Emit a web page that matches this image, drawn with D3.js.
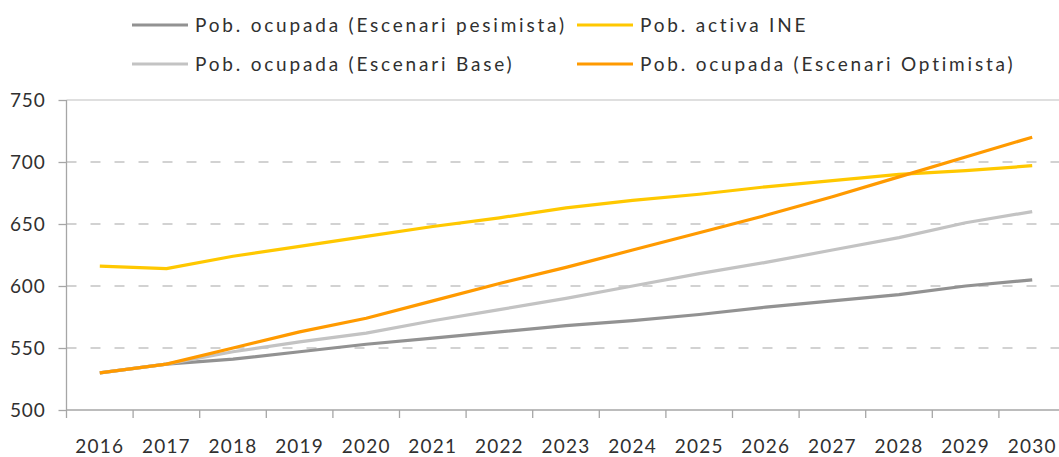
<html lang="en">
<head>
<meta charset="utf-8">
<title>Pob. ocupada</title>
<style>
  body { margin: 0; background: white; }
  svg { background: white; display: block; }
  text { font-family: "Lato", "Open Sans", sans-serif; fill: #303030; }
</style>
</head>
<body>
<div id="chart"></div>
<script src="https://cdn.jsdelivr.net/npm/d3@7"></script>
<script>
var years = ["2016","2017","2018","2019","2020","2021","2022","2023","2024","2025","2026","2027","2028","2029","2030"];
var pesimista = [530, 537, 541, 547, 553, 558, 563, 568, 572, 577, 583, 588, 593, 600, 605];
var base      = [530, 537, 547, 555, 562, 572, 581, 590, 600, 610, 619, 629, 639, 651, 660];
var ine       = [616, 614, 624, 632, 640, 648, 655, 663, 669, 674, 680, 685, 690, 693, 697];
var optimista = [530, 537, 550, 563, 574, 588, 602, 615, 629, 643, 657, 672, 688, 704, 720];
var yTicks = [500, 550, 600, 650, 700, 750];

var seriesNames = ["Pob. ocupada (Escenari pesimista)", "Pob. activa INE",
                   "Pob. ocupada (Escenari Base)", "Pob. ocupada (Escenari Optimista)"];
var seriesColors = ["#929292", "#ffc800", "#c3c3c3", "#ff9a00"];
var seriesData = [pesimista, ine, base, optimista];

var width = 1059, height = 457;
var svg = d3.select("#chart").append("svg")
    .attr("width", width)
    .attr("height", height);

var x = d3.scaleBand()
    .domain(years)
    .range([66.5, 66.5 + 15 * 66.6]);

var y = d3.scaleLinear()
    .domain([500, 750])
    .range([410, 100]);

// grid lines
svg.append("g").selectAll("line")
    .data(yTicks.filter(function(d) { return d > 500; }))
    .enter().append("line")
    .attr("x1", x.range()[0])
    .attr("x2", x.range()[1])
    .attr("y1", function(d) { return y(d); })
    .attr("y2", function(d) { return y(d); })
    .style("stroke", function(d) { return d == 750 ? "#d4d4d4" : "#c4c4c4"; })
    .style("stroke-width", 1.3)
    .style("stroke-dasharray", function(d) { return d == 750 ? null : "10,14"; });

// y axis
var yAxis = d3.axisLeft(y)
    .tickValues(yTicks)
    .tickSize(8)
    .tickPadding(13);
var gy = svg.append("g")
    .attr("transform", "translate(" + x.range()[0] + ",0)")
    .call(yAxis);
gy.selectAll("path, line").style("stroke", "#a6a6a6").style("stroke-width", 1.3);
gy.select(".domain").attr("d", "M0," + y(750) + "V" + y(500));
gy.selectAll("text")
    .style("font-family", "Lato, sans-serif")
    .style("font-size", "19px")
    .style("letter-spacing", "0.8px")
    .style("fill", "#303030");

// x axis: ticks on band edges
var gx = svg.append("g")
    .attr("transform", "translate(0," + y(500) + ")");
gx.append("line")
    .attr("x1", x.range()[0])
    .attr("x2", x.range()[1])
    .style("stroke", "#a6a6a6")
    .style("stroke-width", 1.3);
gx.selectAll(".tick-mark")
    .data(years)
    .enter().append("line")
    .attr("class", "tick-mark")
    .attr("x1", function(d) { return x(d); })
    .attr("x2", function(d) { return x(d); })
    .attr("y1", 0)
    .attr("y2", 8)
    .style("stroke", "#a6a6a6")
    .style("stroke-width", 1.3);
gx.selectAll(".year")
    .data(years)
    .enter().append("text")
    .attr("class", "year")
    .attr("x", function(d) { return x(d) + x.bandwidth() / 2; })
    .attr("y", 43)
    .attr("text-anchor", "middle")
    .style("font-size", "19px")
    .style("letter-spacing", "1.2px")
    .text(function(d) { return d; });

// lines
var line = d3.line()
    .x(function(d, i) { return x(years[i]) + x.bandwidth() / 2; })
    .y(function(d) { return y(d); });

var drawOrder = [0, 2, 1, 3];
drawOrder.forEach(function(k) {
    svg.append("path")
        .datum(seriesData[k])
        .attr("d", line)
        .style("fill", "none")
        .style("stroke", seriesColors[k])
        .style("stroke-width", 3.2)
        .style("stroke-linejoin", "round");
});

// legend
var legendPos = [[132, 25], [577, 25], [132, 64], [577, 64]];
seriesNames.forEach(function(name, k) {
    var g = svg.append("g")
        .attr("transform", "translate(" + legendPos[k][0] + "," + legendPos[k][1] + ")");
    g.append("line")
        .attr("x1", 0).attr("x2", 56)
        .style("stroke", seriesColors[k])
        .style("stroke-width", 3.2);
    g.append("text")
        .attr("x", 63)
        .attr("y", 7)
        .style("font-size", "19px")
        .style("letter-spacing", "2.8px")
        .text(name);
});
</script>
</body>
</html>
